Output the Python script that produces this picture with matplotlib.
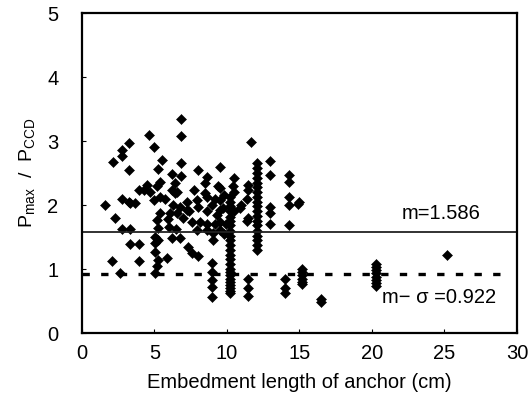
import numpy as np
import matplotlib
matplotlib.use('Agg')
import matplotlib.pyplot as plt

plt.rcParams['font.family'] = ['Liberation Sans', 'DejaVu Sans']
plt.rcParams['mathtext.default'] = 'regular'

# embedment length (cm) and Pmax/Pccd
emb_len = [
    1.6, 2.15, 2.05, 2.3, 2.62, 2.75, 2.75, 2.75, 2.75, 3.25, 3.25, 3.25, 3.3, 3.3, 3.3, 3.65,
    3.9, 3.9, 3.9, 4.25, 4.45, 4.6, 4.7,
    5.0, 5.25, 5.5, 5.2, 5.4, 5.4, 5.7, 5.0, 5.15, 5.4, 5.27, 5.05, 5.27, 5.05, 5.05, 5.27,
    5.15, 5.05, 5.85, 6.18, 6.41, 6.53, 6.2, 6.8, 6.8, 6.8, 6.8, 6.3, 6.07, 6.53, 6.76, 6.41,
    6.18, 6.76, 7.22, 7.22, 7.56, 7.33, 7.56, 8.02, 7.91, 8.14, 7.91, 8.02, 8.02, 7.7, 8.6,
    8.5, 8.5, 8.6, 8.6, 8.6, 8.6, 9.06, 9.06, 8.94, 8.94, 8.94, 8.94, 8.94, 9.17, 9.4, 9.52,
    9.52, 9.52, 9.52, 9.52, 9.52, 9.3, 9.7, 9.0, 9.2, 9.8, 9.8, 6.0, 5.9, 6.5, 7.0, 7.4,
    10.2, 10.2, 10.2, 10.2, 10.2, 10.2, 10.2, 10.2, 10.2, 10.2, 10.2, 10.2, 10.2, 10.2,
    10.2, 10.2, 10.2, 10.2, 10.2, 10.2, 10.2, 10.2, 10.2, 10.2,
    10.5, 10.5, 10.44, 9.95, 10.5, 10.9, 11.0,
    11.47, 11.47, 11.63, 11.47, 11.47, 11.47, 11.47, 11.4, 11.4,
    12.1, 12.1, 12.1, 12.1, 12.1, 12.1, 12.1, 12.1, 12.1, 12.1, 12.1, 12.1, 12.1, 12.1,
    12.1, 12.1, 12.1, 12.1, 12.1,
    13.0, 13.0, 13.0, 13.0, 13.0,
    14.3, 14.3, 14.3, 14.3, 14.3, 14.0, 14.0, 14.0, 15.0, 14.9,
    15.2, 15.2, 15.2, 15.2, 15.2, 15.2, 16.5, 16.5,
    20.3, 20.3, 20.3, 20.3, 20.3, 20.3, 20.3, 20.3, 25.2,
]
ratio = [
    2.0, 2.67, 1.13, 1.80, 0.94, 2.86, 2.76, 2.1, 1.62, 2.97, 2.54, 2.04, 1.62, 1.39, 2.03, 2.03,
    2.23, 1.39, 1.13, 2.23, 2.31, 3.10, 2.21,
    2.9, 2.57, 2.70, 2.29, 2.36, 2.13, 2.10, 2.08, 1.77, 1.87, 1.64, 1.50, 1.45, 1.40, 1.27, 1.14,
    1.04, 0.93, 1.17, 2.49, 2.35, 2.21, 2.23, 3.35, 3.08, 2.66, 2.45, 2.0, 1.87, 1.87, 1.97, 2.18,
    1.48, 1.48, 2.05, 1.92, 1.74, 1.35, 1.25, 1.20, 1.61, 1.74, 2.08, 1.97, 2.54, 2.23, 2.44,
    2.34, 2.19, 2.13, 1.90, 1.71, 1.61, 1.56, 1.45, 1.09, 0.96, 0.83, 0.72, 0.57, 2.10, 2.29, 2.60,
    2.26, 2.08, 1.92, 1.74, 1.61, 1.85, 1.95, 2.0, 1.70, 1.55, 2.15, 1.65, 1.78, 1.62, 1.80, 1.90,
    2.12, 2.05, 1.98, 1.90, 1.82, 1.75, 1.68, 1.60, 1.52, 1.45, 1.38, 1.30, 1.22, 1.15,
    1.08, 1.00, 0.95, 0.90, 0.85, 0.80, 0.75, 0.70, 0.65, 0.62,
    2.42, 2.21, 2.30, 1.70, 1.90, 1.95, 2.0,
    2.31, 2.23, 2.99, 1.80, 0.84, 0.71, 0.58, 2.10, 1.75,
    2.65, 2.58, 2.50, 2.42, 2.35, 2.28, 2.20, 2.12, 2.05, 1.98, 1.90, 1.83, 1.75, 1.68,
    1.60, 1.52, 1.45, 1.38, 1.30,
    2.68, 2.47, 1.97, 1.87, 1.71,
    2.47, 2.36, 2.13, 2.00, 1.69, 0.85, 0.70, 0.62, 2.04, 2.02,
    1.00, 0.95, 0.90, 0.85, 0.80, 0.77, 0.49, 0.53,
    1.08, 1.03, 0.98, 0.93, 0.88, 0.83, 0.78, 0.73, 1.22,
]
mean_val = 1.586
mean_minus_sd = 0.922

fig = plt.figure(figsize=(5.31, 3.99), dpi=100)
ax = fig.add_axes([0.1544, 0.1654, 0.8192, 0.802])

ax.plot(emb_len, ratio, linestyle='none', marker='D', markersize=4.6,
        color='black', markeredgewidth=0.4)
ax.axhline(mean_val, color='#222222', lw=1.3)
ax.plot([0, 29.3], [mean_minus_sd, mean_minus_sd], color='black', lw=2.4,
        linestyle=(0, (2.2, 3.4)))

ax.text(24.8, 1.87, 'm=1.586', fontsize=14.5, ha='center', va='center')
ax.text(24.6, 0.56, 'm\u2212 \u03c3 =0.922', fontsize=14.5, ha='center', va='center')

ax.set_xlim(0, 30)
ax.set_ylim(0, 5)
ax.set_xticks(range(0, 31, 5))
ax.set_yticks(range(0, 6))
ax.tick_params(direction='in', length=3, width=0.8, labelsize=14.5)
ax.tick_params(axis='x', pad=8)
ax.tick_params(axis='y', pad=17)
for s in ax.spines.values():
    s.set_linewidth(1.6)

ax.set_xlabel('Embedment length of anchor (cm)', fontsize=14.5, labelpad=7)
ax.set_ylabel(r'P$_{max}$  /  P$_{CCD}$', fontsize=14, labelpad=7)

fig.savefig('out.png', dpi=100)
